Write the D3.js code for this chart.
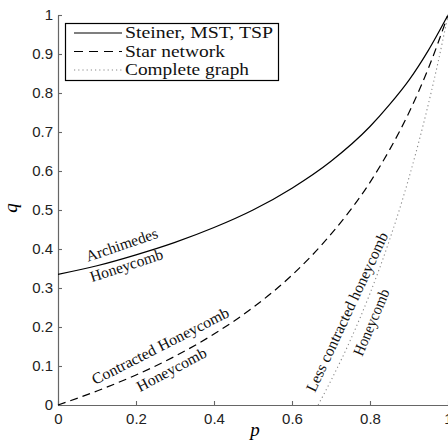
<!DOCTYPE html>
<html>
<head>
<meta charset="utf-8">
<script src="https://cdn.jsdelivr.net/npm/d3@7"></script>
<style>
  body { margin: 0; background: #fff; }
  svg { display: block; }
</style>
</head>
<body>
<script>
// data
var pGrid = [0, 0.1, 0.2, 0.3, 0.4, 0.5, 0.6, 0.7, 0.8, 0.85, 0.9, 0.95, 1];
var qSteiner = [0.335, 0.357, 0.385, 0.417, 0.455, 0.5, 0.556, 0.625, 0.714, 0.77, 0.833, 0.91, 1];
var qStar = [0, 0.036, 0.077, 0.125, 0.182, 0.25, 0.333, 0.438, 0.571, 0.654, 0.75, 0.864, 1];
var pComplete = [0.667, 0.7, 0.75, 0.8, 0.85, 0.9, 0.95, 0.975, 1];
var qComplete = [0, 0.063, 0.167, 0.286, 0.423, 0.583, 0.773, 0.881, 1];

var xTicks = [0, 0.2, 0.4, 0.6, 0.8, 1];
var yTicks = [0, 0.1, 0.2, 0.3, 0.4, 0.5, 0.6, 0.7, 0.8, 0.9, 1];
var legendNames = ["Steiner, MST, TSP", "Star network", "Complete graph"];

var W = 448, H = 443;
var svg = d3.select("body").append("svg")
  .attr("width", W)
  .attr("height", H);

var x = d3.scaleLinear().domain([0, 1]).range([58, 448]);
var y = d3.scaleLinear().domain([0, 1]).range([405, 15]);

var fmt = function (d) { return d3.format("")(+d.toFixed(1)); };

// axes, matlab style with inward ticks
var gx = svg.append("g")
  .attr("transform", "translate(0," + y(0) + ")")
  .call(d3.axisBottom(x).tickValues(xTicks).tickFormat(fmt)
    .tickSizeInner(-4).tickSizeOuter(0).tickPadding(8));
var gy = svg.append("g")
  .attr("transform", "translate(" + x(0) + ",0)")
  .call(d3.axisLeft(y).tickValues(yTicks).tickFormat(fmt)
    .tickSizeInner(-4).tickSizeOuter(0).tickPadding(5));

[gx, gy].forEach(function (g) {
  g.select(".domain").attr("stroke", "#666").attr("stroke-width", 1.2);
  g.selectAll(".tick line").attr("stroke", "#666").attr("stroke-width", 1.1);
  g.selectAll(".tick text")
    .style("font-family", "'Liberation Sans', Arial, sans-serif")
    .style("font-size", "15px")
    .attr("fill", "#222");
});

// axis titles
svg.append("text")
  .attr("x", x(0.505)).attr("y", 436)
  .attr("text-anchor", "middle")
  .style("font-family", "'Liberation Serif', serif")
  .style("font-style", "italic")
  .style("font-size", "19px")
  .text("p");
svg.append("text")
  .attr("transform", "translate(17," + y(0.505) + ") rotate(-90)")
  .attr("text-anchor", "middle")
  .style("font-family", "'Liberation Serif', serif")
  .style("font-style", "italic")
  .style("font-size", "19px")
  .text("q");

// curves
var line = d3.line()
  .x(function (d) { return x(d[0]); })
  .y(function (d) { return y(d[1]); })
  .curve(d3.curveMonotoneX);

var series = [
  { pts: d3.zip(pGrid, qSteiner), color: "#000", width: 1.2, dash: null },
  { pts: d3.zip(pGrid, qStar), color: "#000", width: 1.2, dash: "8,5" },
  { pts: d3.zip(pComplete, qComplete), color: "#888", width: 1.1, dash: "1.2,3" }
];

svg.selectAll("path.curve")
  .data(series)
  .enter()
  .append("path")
  .attr("class", "curve")
  .attr("d", function (d) { return line(d.pts); })
  .attr("fill", "none")
  .attr("stroke", function (d) { return d.color; })
  .attr("stroke-width", function (d) { return d.width; })
  .attr("stroke-dasharray", function (d) { return d.dash; });

// curve labels: position in data units, angle, length in px
var labels = [
  { t: "Archimedes", p: 0.077, q: 0.367, a: -19, len: 75 },
  { t: "Honeycomb", p: 0.087, q: 0.315, a: -18, len: 76 },
  { t: "Contracted Honeycomb", p: 0.095, q: 0.051, a: -27, len: 152 },
  { t: "Honeycomb", p: 0.21, q: 0.033, a: -28, len: 77 },
  { t: "Less contracted honeycomb", p: 0.659, q: 0.031, a: -65, len: 174 },
  { t: "Honeycomb", p: 0.78, q: 0.123, a: -67, len: 71 }
];

svg.selectAll("text.lab")
  .data(labels)
  .enter()
  .append("text")
  .attr("class", "lab")
  .attr("transform", function (d) {
    return "translate(" + x(d.p) + "," + y(d.q) + ") rotate(" + d.a + ")";
  })
  .attr("textLength", function (d) { return d.len; })
  .attr("lengthAdjust", "spacingAndGlyphs")
  .style("font-family", "'Liberation Serif', serif")
  .style("font-size", "15.5px")
  .attr("fill", "#111")
  .text(function (d) { return d.t; });

// legend
var legend = svg.append("g");
legend.append("rect")
  .attr("x", 65.5).attr("y", 23.5)
  .attr("width", 213).attr("height", 57)
  .attr("fill", "#fff")
  .attr("stroke", "#000")
  .attr("stroke-width", 1.2);

var legendLens = [148, 100, 124];
var items = legend.selectAll("g.item")
  .data(series)
  .enter()
  .append("g")
  .attr("class", "item")
  .attr("transform", function (d, i) { return "translate(0," + (33 + i * 18.5) + ")"; });

items.append("line")
  .attr("x1", 74).attr("x2", 122)
  .attr("stroke", function (d) { return d.color; })
  .attr("stroke-width", function (d) { return d.width; })
  .attr("stroke-dasharray", function (d, i) { return i == 1 ? "9,6" : d.dash; });

items.append("text")
  .attr("x", 125).attr("y", 5)
  .attr("textLength", function (d, i) { return legendLens[i]; })
  .attr("lengthAdjust", "spacingAndGlyphs")
  .style("font-family", "'Liberation Serif', serif")
  .style("font-size", "17px")
  .attr("fill", "#111")
  .text(function (d, i) { return legendNames[i]; });
</script>
</body>
</html>
